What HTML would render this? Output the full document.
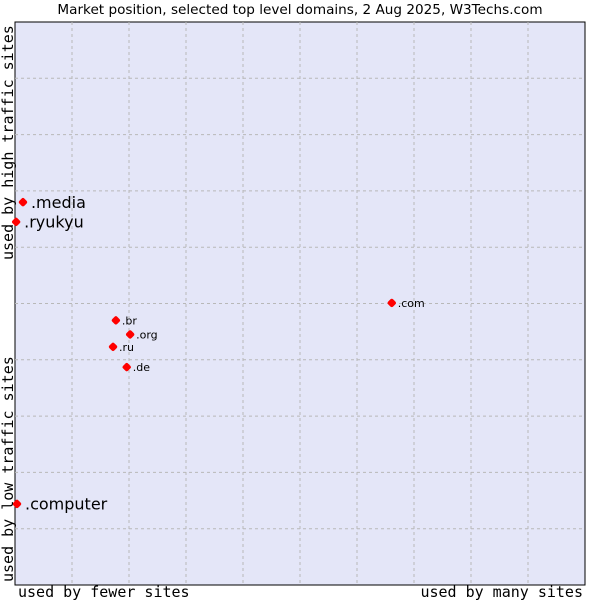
<!DOCTYPE html>
<html><head><meta charset="utf-8"><style>
body{margin:0;background:#fff;}
svg{display:block;}
</style></head><body>
<svg id="chart" width="600" height="600" xmlns="http://www.w3.org/2000/svg">
<text x="300" y="14" text-anchor="middle" font-family="DejaVu Sans, sans-serif" font-size="13.6" fill="#000">Market position, selected top level domains, 2 Aug 2025, W3Techs.com</text>
<rect x="15" y="22" width="570" height="563" fill="#e4e6f8" stroke="#000" stroke-width="1"/>
<g id="grid"></g>
<g id="points"></g>
<text x="18" y="597" font-family="DejaVu Sans Mono, monospace" font-size="15">used by fewer sites</text>
<text x="583" y="597" text-anchor="end" font-family="DejaVu Sans Mono, monospace" font-size="15">used by many sites</text>
<text transform="translate(13,582) rotate(-90)" font-family="DejaVu Sans Mono, monospace" font-size="15">used by low traffic sites</text>
<text transform="translate(13,260) rotate(-90)" font-family="DejaVu Sans Mono, monospace" font-size="15">used by high traffic sites</text>
</svg>
<script>
const domains=[".br",".org",".ru",".de",".com",".media",".ryukyu",".computer"];
const usage=[17.7,20.2,17.2,19.6,66.1,1.4,0.2,0.35];
const traffic=[47.0,44.5,42.3,38.7,50.1,68.0,64.5,14.4];
const labelSize=[11,11,11,11,11,16,16,16];
const X0=15,X1=585,Y0=585,Y1=22;
const sx=v=>X0+v/100*(X1-X0);
const sy=v=>Y0-v/100*(Y0-Y1);
const NS="http://www.w3.org/2000/svg";
const grid=document.getElementById('grid');
for(let i=1;i<10;i++){
 const x=X0+i*(X1-X0)/10, y=Y1+i*(Y0-Y1)/10;
 const lv=document.createElementNS(NS,'line');
 
 
 lv.setAttribute('x1',x);lv.setAttribute('x2',x);lv.setAttribute('y1',Y1);lv.setAttribute('y2',Y0);
 lv.setAttribute('stroke','#b8b8b8');lv.setAttribute('stroke-dasharray','3,3');
 grid.appendChild(lv);
 const lh=document.createElementNS(NS,'line');
 
 
 lh.setAttribute('x1',X0);lh.setAttribute('x2',X1);lh.setAttribute('y1',y);lh.setAttribute('y2',y);
 lh.setAttribute('stroke','#b8b8b8');lh.setAttribute('stroke-dasharray','3,3');
 grid.appendChild(lh);
}
const pts=document.getElementById('points');
domains.forEach((d,i)=>{
 const x=sx(usage[i]), y=sy(traffic[i]);
 const m=document.createElementNS(NS,'rect');
 
 
 m.setAttribute('x',x-3.5);m.setAttribute('y',y-3.5);
 m.setAttribute('width',7);m.setAttribute('height',7);
 m.setAttribute('rx',2);
 m.setAttribute('transform',`rotate(45 ${x} ${y})`);
 m.setAttribute('fill','#ff0000');
 pts.appendChild(m);
 const t=document.createElementNS(NS,'text');
 
 
 t.setAttribute('x',x+(labelSize[i]>12?8:6));t.setAttribute('y',y+labelSize[i]*0.36);
 t.setAttribute('font-family','DejaVu Sans, sans-serif');
 t.setAttribute('font-size',labelSize[i]);
 t.textContent=d;
 pts.appendChild(t);
});
</script>
</body></html>
